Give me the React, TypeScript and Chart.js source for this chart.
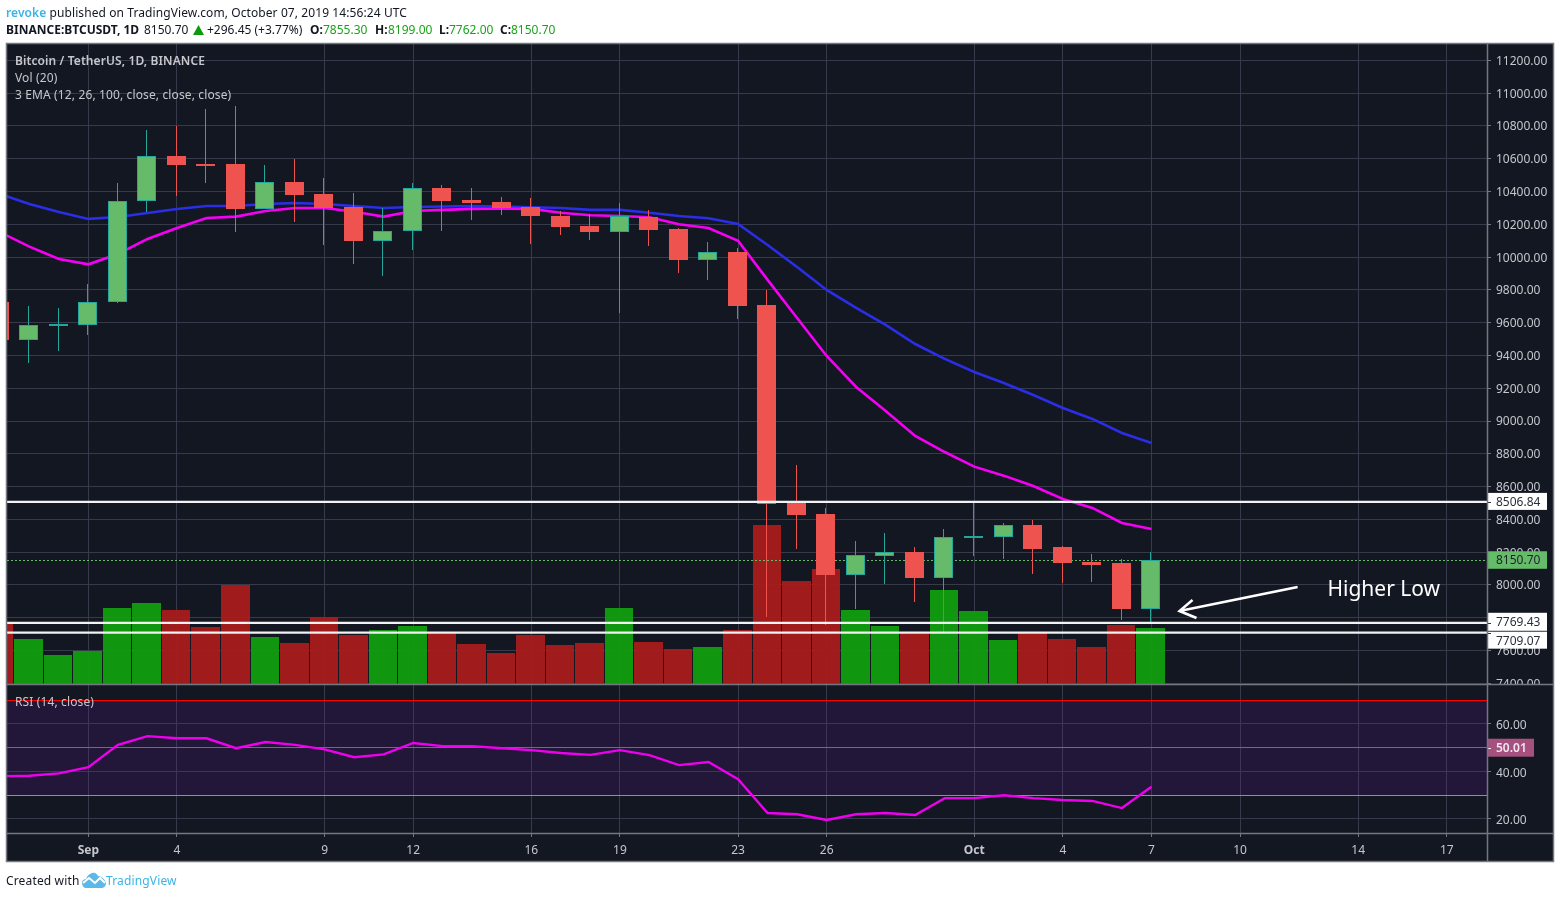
import React, { useEffect, useRef } from "react";
import { Chart, registerables } from "chart.js";

Chart.register(...registerables);

const FONT = '"Noto Sans", sans-serif';

// Day index: 0 = Sep 1
const DAYS = [-3, -2, -1, 0, 1, 2, 3, 4, 5, 6, 7, 8, 9, 10, 11, 12, 13, 14, 15, 16, 17, 18, 19, 20, 21, 22, 23, 24, 25, 26, 27, 28, 29, 30, 31, 32, 33, 34, 35, 36];
const OPEN = [9726, 9496, 9578, 9588, 9724, 10341, 10617, 10571, 10568, 10295, 10458, 10385, 10306, 10100, 10161, 10422, 10349, 10336, 10306, 10251, 10190, 10155, 10245, 10172, 9984, 10031, 9708, 8500, 8433, 8063, 8179, 8201, 8045, 8286, 8295, 8366, 8232, 8140, 8134, 7855.3];
const CLOSE = [9495, 9584, 9590, 9724, 10341, 10615, 10564, 10562, 10294, 10456, 10379, 10302, 10098, 10159, 10420, 10342, 10330, 10300, 10251, 10184, 10153, 10249, 10166, 9983, 10030, 9702, 8494, 8427, 8061, 8181, 8201, 8043, 8291, 8298, 8364, 8220, 8134, 8122, 7854, 8150.7];
const HIGH = [9760, 9702, 9690, 9834, 10452, 10776, 10800, 10904, 10920, 10562, 10599, 10483, 10391, 10300, 10452, 10440, 10422, 10367, 10361, 10281, 10263, 10330, 10288, 10178, 10092, 10056, 9800, 8732, 8470, 8268, 8317, 8232, 8342, 8506, 8378, 8396, 8238, 8189, 8159, 8199];
const LOW = [9440, 9356, 9429, 9527, 9720, 10277, 10375, 10454, 10153, 10295, 10216, 10074, 9958, 9885, 10044, 10161, 10227, 10257, 10080, 10135, 10105, 9659, 10068, 9903, 9861, 9623, 7805, 8220, 7756, 7854, 8006, 7896, 7713, 8177, 8159, 8067, 8012, 8018, 7786, 7762];
const VOLUME = [30.5, 22.5, 14.5, 16.5, 38, 40.5, 37, 28.5, 49.5, 23.5, 20.5, 33.5, 24.5, 27, 29, 25.5, 20, 15.5, 24.5, 19.5, 20.5, 38, 21, 17.5, 18.5, 27, 79.5, 51.5, 57.5, 37, 29, 26, 47, 36.5, 22, 25.5, 22.5, 18.5, 29.5, 28];
const EMA_FAST = [10153, 10064, 9989, 9956, 10019, 10111, 10178, 10239, 10247, 10281, 10300, 10300, 10277, 10247, 10281, 10288, 10294, 10295, 10294, 10271, 10255, 10251, 10243, 10200, 10178, 10100, 9861, 9629, 9397, 9208, 9061, 8909, 8811, 8722, 8667, 8604, 8525, 8470, 8378, 8342];
const EMA_SLOW = [10385, 10324, 10275, 10233, 10245, 10269, 10294, 10312, 10312, 10324, 10330, 10324, 10312, 10300, 10306, 10309, 10312, 10309, 10304, 10300, 10288, 10288, 10271, 10251, 10237, 10202, 10074, 9940, 9800, 9690, 9586, 9470, 9379, 9299, 9232, 9159, 9080, 9013, 8927, 8866];
const RSI = [38, 38.2, 39.2, 41.8, 51.2, 54.9, 54, 54, 49.8, 52.4, 51.2, 49.3, 46, 47.2, 52, 50.7, 50.7, 49.8, 49, 47.8, 47, 49, 46.9, 42.7, 44, 36.8, 22.5, 22, 19.6, 22, 22.5, 21.7, 28.8, 28.8, 30, 28.8, 28, 27.6, 24.6, 33.6];

const X_TICK_DAYS = [0, 3, 8, 11, 15, 18, 22, 25, 30, 33, 36, 39, 43, 46];
const X_TICK_LABELS = ["Sep", "4", "9", "12", "16", "19", "23", "26", "Oct", "4", "7", "10", "14", "17"];
const PRICE_TICKS = [7400, 7600, 7800, 8000, 8200, 8400, 8600, 8800, 9000, 9200, 9400, 9600, 9800, 10000, 10200, 10400, 10600, 10800, 11000, 11200];
const RSI_TICKS = [20, 40, 60];
const LAST_PRICE = 8150.7;
const LEVEL_PRICES = [8506.84, 7769.43, 7709.07];
const RSI_UPPER = 70;
const RSI_MID = 50.01;
const RSI_LOWER = 30;

const X_MIN = -2.757;
const X_MAX = 47.363;

const BG = "#131722";
const GRID = "#363a4a";
const FRAME = "#74777f";
const TEXT = "#c5c7cc";
const UP = "#66bb6a";
const UP_EDGE = "#26a69a";
const DOWN = "#ef5350";

const span = (v: number) => [{ x: X_MIN, y: v }, { x: X_MAX, y: v }];
const lineBase = { type: "line" as const, pointRadius: 0, tension: 0, fill: false };

function tag(ctx: CanvasRenderingContext2D, x: number, w: number, top: number, bottom: number, fill: string, color: string, text: string, bold = false) {
  ctx.fillStyle = fill;
  ctx.fillRect(x, top, w, bottom - top);
  ctx.fillStyle = color;
  ctx.font = `${bold ? "600 " : ""}12px ${FONT}`;
  ctx.textAlign = "left";
  ctx.textBaseline = "middle";
  ctx.fillText(text, x + 9, (top + bottom) / 2 + 1);
}

const chrome = {
  id: "chrome",
  // keep bars and thin level lines on whole pixels, as the original renderer does
  afterDatasetsUpdate(chart: any) {
    chart.data.datasets.forEach((ds: any, i: number) => {
      const meta = chart.getDatasetMeta(i);
      if (ds.snap === "bar") {
        const w = ds.barThickness;
        meta.data.forEach((el: any) => {
          const l = Math.round(el.x - 0.8 - w / 2);
          const r = Math.round(el.x - 0.8 + w / 2);
          el.x = (l + r) / 2;
          el.width = r - l;
          const a = Math.round(el.y);
          let b = Math.round(el.base);
          if (Math.abs(a - b) < 2 && w > 5) b = a + 2;
          el.y = a;
          el.base = b;
        });
      } else if (ds.snap === "line") {
        meta.data.forEach((el: any) => { el.y = Math.floor(el.y) + 0.5; });
      }
    });
  },
  beforeDraw(chart: any) {
    const c = chart.ctx as CanvasRenderingContext2D;
    c.save();
    c.fillStyle = BG;
    c.fillRect(6, 43, 1548, 819);
    c.restore();
  },
  afterDraw(chart: any) {
    const c = chart.ctx as CanvasRenderingContext2D;
    const { x, y, rsi } = chart.scales;
    const { left, right, top, bottom } = chart.chartArea;
    c.save();
    // price labels are cut at the pane edge
    c.fillStyle = BG;
    c.fillRect(right + 1, rsi.top, 65, 13);

    // annotation: arrow and text
    const tipX = x.getPixelForValue(36.95);
    const tipY = y.getPixelForValue(7841);
    const tailX = x.getPixelForValue(40.95);
    const tailY = y.getPixelForValue(7988);
    c.strokeStyle = "#ffffff";
    c.lineWidth = 2.6;
    c.lineJoin = "miter";
    c.beginPath();
    c.moveTo(tailX, tailY);
    c.lineTo(tipX, tipY);
    c.moveTo(tipX + 13, tipY - 11);
    c.lineTo(tipX, tipY);
    c.lineTo(tipX + 17, tipY + 7);
    c.stroke();
    c.fillStyle = "#ffffff";
    c.font = `21px ${FONT}`;
    c.textAlign = "left";
    c.textBaseline = "middle";
    c.fillText("Higher Low", x.getPixelForValue(41.96), y.getPixelForValue(7976) + 1);

    // value tags on the axes
    const px = right;
    const p1 = y.getPixelForValue(LEVEL_PRICES[0]);
    tag(c, px, 60, p1 - 9, p1 + 8, "#ffffff", "#2a2e39", LEVEL_PRICES[0].toFixed(2));
    const p0 = y.getPixelForValue(LAST_PRICE);
    tag(c, px, 60, p0 - 9, p0 + 8.5, UP, "#1d2128", LAST_PRICE.toFixed(2));
    const p2 = y.getPixelForValue(LEVEL_PRICES[1]);
    tag(c, px, 60, p2 - 10, p2 + 8, "#ffffff", "#2a2e39", LEVEL_PRICES[1].toFixed(2));
    const p3 = y.getPixelForValue(LEVEL_PRICES[2]);
    tag(c, px, 60, p3 - 1, p3 + 16, "#ffffff", "#2a2e39", LEVEL_PRICES[2].toFixed(2));
    const m = rsi.getPixelForValue(RSI_MID);
    tag(c, px, 47, m - 9, m + 9, "#a5507f", "#f2e6ee", RSI_MID.toFixed(2), true);
    c.fillStyle = "#2a2e39";
    [p1, p2, p3].forEach((v) => c.fillRect(px, Math.round(v), 4, 1));
    c.fillStyle = "#f2e6ee";
    c.fillRect(px, Math.round(m), 4, 1);

    // frame and pane separators
    c.strokeStyle = FRAME;
    c.lineWidth = 1.5;
    c.strokeRect(6.5, 43.5, 1547, 818);
    c.beginPath();
    c.moveTo(left, rsi.top + 0.5);
    c.lineTo(1553, rsi.top + 0.5);
    c.moveTo(left, bottom + 0.5);
    c.lineTo(1553, bottom + 0.5);
    c.moveTo(right + 0.5, top);
    c.lineTo(right + 0.5, 861);
    c.stroke();
    c.restore();
  },
};

const pts = (vals: number[]) => DAYS.map((d, i) => ({ x: d, y: vals[i] }));
const isUp = (i: number) => CLOSE[i] >= OPEN[i];

function Legend({ top, weight, children }: { top: number; weight?: number; children: React.ReactNode }) {
  return <div style={{ position: "absolute", left: 15, top, lineHeight: "16px", fontSize: 12, fontWeight: weight || 400, letterSpacing: weight ? 0.1 : 0.13, color: TEXT, whiteSpace: "nowrap" }}>{children}</div>;
}

function At({ left, color, bold, children }: { left: number; color?: string; bold?: boolean; children: React.ReactNode }) {
  return <span style={{ position: "absolute", left, top: 0, color: color || "#131722", fontWeight: bold ? 700 : 400, whiteSpace: "nowrap" }}>{children}</span>;
}

export default function App() {
  const ref = useRef<HTMLCanvasElement | null>(null);
  useEffect(() => {
    const chart = new Chart(ref.current as HTMLCanvasElement, {
      type: "bar",
      plugins: [chrome],
      data: {
        datasets: [
          { type: "bar", label: "Volume", yAxisID: "vol", snap: "bar", inflateAmount: 0, data: pts(VOLUME), grouped: false, barThickness: 28.5, order: 20, backgroundColor: DAYS.map((_, i) => (isUp(i) ? "rgba(16,158,14,0.94)" : "rgba(168,28,28,0.94)")) },
          { ...lineBase, label: "RSI upper", yAxisID: "rsi", snap: "line", data: span(RSI_UPPER), borderColor: "#ff0000", borderWidth: 1, order: 15, fill: { target: { value: RSI_LOWER }, above: "rgba(128,20,200,0.14)" } },
          { ...lineBase, label: "RSI mid", yAxisID: "rsi", snap: "line", data: span(RSI_MID), borderColor: "#a5507f", borderWidth: 1, order: 14 },
          { ...lineBase, label: "RSI lower", yAxisID: "rsi", snap: "line", data: span(RSI_LOWER), borderColor: "#33cc44", borderWidth: 1, order: 14 },
          { ...lineBase, label: "RSI", yAxisID: "rsi", data: pts(RSI), borderColor: "#ee00ee", borderWidth: 2.4, order: 12 },
          { ...lineBase, label: "Last price", yAxisID: "y", snap: "line", data: span(LAST_PRICE), borderColor: UP, borderWidth: 1, borderDash: [2, 2], order: 10 },
          { ...lineBase, label: "EMA 26", yAxisID: "y", data: pts(EMA_SLOW), borderColor: "#2a2ee6", borderWidth: 2.6, order: 9 },
          { ...lineBase, label: "EMA 12", yAxisID: "y", data: pts(EMA_FAST), borderColor: "#f400f4", borderWidth: 2.6, order: 8 },
          { type: "bar", label: "Wick", yAxisID: "y", snap: "bar", inflateAmount: 0, grouped: false, barThickness: 1, order: 6, data: DAYS.map((d, i) => ({ x: d, y: [LOW[i], HIGH[i]] })), backgroundColor: DAYS.map((_, i) => (isUp(i) ? UP_EDGE : DOWN)) },
          { type: "bar", label: "Candle", yAxisID: "y", snap: "bar", inflateAmount: 0, grouped: false, barThickness: 19, order: 5, borderWidth: 1, borderSkipped: false, data: DAYS.map((d, i) => ({ x: d, y: [OPEN[i], CLOSE[i]] })), backgroundColor: DAYS.map((_, i) => (isUp(i) ? UP : DOWN)), borderColor: DAYS.map((_, i) => (isUp(i) ? UP_EDGE : DOWN)) },
          ...LEVEL_PRICES.map((v, i) => ({ ...lineBase, label: `Level ${i + 1}`, yAxisID: "y", data: span(v), borderColor: "#f2f2f2", borderWidth: 2.2, order: 1 })),
        ] as any,
      },
      options: {
        responsive: false,
        animation: false,
        events: [],
        devicePixelRatio: 1,
        layout: { padding: { left: 7, top: 44, right: 7, bottom: 37 } },
        plugins: { legend: { display: false }, tooltip: { enabled: false }, title: { display: false } },
        font: { family: FONT },
        scales: {
          x: {
            type: "linear",
            min: X_MIN,
            max: X_MAX,
            offset: false,
            afterBuildTicks: (s: any) => { s.ticks = X_TICK_DAYS.map((value) => ({ value })); },
            afterFit: (s: any) => { s.height = 28; },
            grid: { color: GRID, tickColor: FRAME, tickLength: 4, offset: false },
            border: { display: false },
            ticks: {
              autoSkip: false,
              maxRotation: 0,
              minRotation: 0,
              padding: 6,
              color: TEXT,
              callback: (_v: any, i: number) => X_TICK_LABELS[i],
              font: (ctx: any) => ({ family: FONT, size: 12, weight: ctx.tick && /[A-Z]/.test(String(ctx.tick.label)) ? "700" : "400" }),
            },
          },
          y: {
            type: "linear",
            position: "right",
            stack: "panes",
            stackWeight: 640,
            min: 7396,
            max: 11300,
            afterBuildTicks: (s: any) => { s.ticks = PRICE_TICKS.map((value) => ({ value })); },
            afterFit: (s: any) => { s.width = 66; },
            grid: { color: GRID, tickColor: FRAME, tickLength: 4 },
            border: { display: false },
            ticks: { color: TEXT, padding: 5, labelOffset: 1, font: { family: FONT, size: 12 }, callback: (v: any) => Number(v).toFixed(2) },
          },
          rsi: {
            type: "linear",
            position: "right",
            stack: "panes",
            stackWeight: 149,
            min: 14.1,
            max: 76.84,
            afterBuildTicks: (s: any) => { s.ticks = RSI_TICKS.map((value) => ({ value })); },
            afterFit: (s: any) => { s.width = 66; },
            grid: { color: GRID, tickColor: FRAME, tickLength: 4 },
            border: { display: false },
            ticks: { color: TEXT, padding: 5, labelOffset: 2, font: { family: FONT, size: 12 }, callback: (v: any) => Number(v).toFixed(2) },
          },
          vol: { type: "linear", display: false, position: "left", min: -74.5, max: 320, grid: { display: false } },
        },
      } as any,
    });
    return () => chart.destroy();
  }, []);

  return (
    <div style={{ position: "absolute", left: 0, top: 0, width: 1560, height: 898, background: "#fff", overflow: "hidden", fontFamily: FONT, fontSize: 12 }}>
      <canvas ref={ref} width={1560} height={898} style={{ display: "block" }} />
      <div style={{ position: "absolute", left: 6, top: 5, lineHeight: "16px", color: "#131722", whiteSpace: "nowrap", letterSpacing: 0.09 }}>
        <span style={{ color: "#3bb3e4", fontWeight: 600 }}>revoke</span> published on TradingView.com, October 07, 2019 14:56:24 UTC
      </div>
      <div style={{ position: "absolute", left: 0, top: 22, height: 16, width: 700, lineHeight: "16px" }}>
        <At left={6} bold>BINANCE:BTCUSDT, 1D</At>
        <At left={144}>8150.70</At>
        <svg style={{ position: "absolute", left: 193, top: 3 }} width="11" height="10"><path d="M5.5 0 L11 10 L0 10 Z" fill="#0a9a0a" /></svg>
        <At left={207}>+296.45 (+3.77%)</At>
        <At left={310} bold>O:</At>
        <At left={323} color="#1aa31a">7855.30</At>
        <At left={375} bold>H:</At>
        <At left={388} color="#1aa31a">8199.00</At>
        <At left={439} bold>L:</At>
        <At left={449} color="#1aa31a">7762.00</At>
        <At left={500} bold>C:</At>
        <At left={511} color="#1aa31a">8150.70</At>
      </div>
      <Legend top={53} weight={600}>Bitcoin / TetherUS, 1D, BINANCE</Legend>
      <Legend top={70}>Vol (20)</Legend>
      <Legend top={87}>3 EMA (12, 26, 100, close, close, close)</Legend>
      <Legend top={694}>RSI (14, close)</Legend>
      <div style={{ position: "absolute", left: 6, top: 873, lineHeight: "16px", color: "#131722", whiteSpace: "nowrap", letterSpacing: 0.15 }}>Created with</div>
      <svg style={{ position: "absolute", left: 82, top: 872 }} width="24" height="16" viewBox="0 0 24 16">
        <path d="M0 11 C0 8 2 7 4 7 C5 4 7 2 10 1 C13 0 15 2 16 4 C19 4 23 7 24 11 C24 14 22 16 19 16 L4 16 C2 16 0 14 0 11 Z" fill="#5bb8e8" />
        <path d="M1 11 L7 6 L13 11 L18 6 L23 11" fill="none" stroke="#fff" strokeWidth="2" />
      </svg>
      <div style={{ position: "absolute", left: 106, top: 873, lineHeight: "16px", color: "#3bb3e4", whiteSpace: "nowrap", letterSpacing: 0.15 }}>TradingView</div>
    </div>
  );
}
